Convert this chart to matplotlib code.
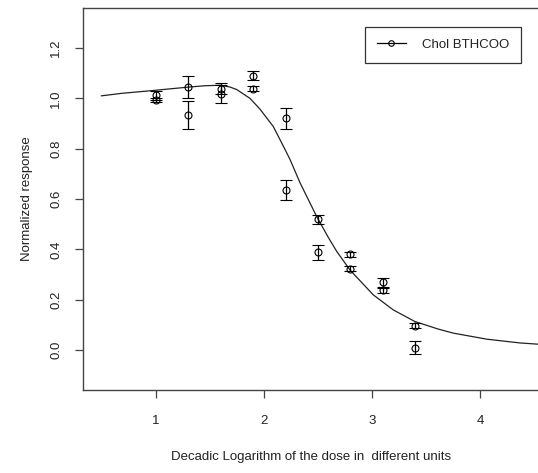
import matplotlib
matplotlib.use("Agg")
import matplotlib.pyplot as plt
from matplotlib.lines import Line2D

plt.rcParams['font.family'] = ['Liberation Sans', 'DejaVu Sans']

# Observed data (two replicates per dose level)
dose_log = [1.0, 1.3, 1.6, 1.9, 2.2, 2.5, 2.8, 3.1, 3.4]
resp_a = [1.013, 1.046, 1.038, 1.089, 0.920, 0.519, 0.380, 0.270, 0.096]
err_a = [0.018, 0.043, 0.022, 0.018, 0.043, 0.018, 0.009, 0.018, 0.010]
resp_b = [0.993, 0.933, 1.018, 1.038, 0.636, 0.388, 0.323, 0.237, 0.009]
err_b = [0.008, 0.055, 0.036, 0.010, 0.038, 0.030, 0.011, 0.009, 0.025]

# Fitted curve
curve_x = [0.495, 0.685, 0.944, 1.284, 1.450, 1.593, 1.685, 1.747, 1.870, 1.963,
           2.086, 2.179, 2.241, 2.333, 2.488, 2.596, 2.673, 2.796, 3.012, 3.198,
           3.398, 3.614, 3.753, 4.062, 4.370, 4.540]
curve_y = [1.010, 1.020, 1.030, 1.044, 1.050, 1.052, 1.045, 1.035, 1.000, 0.957,
           0.888, 0.810, 0.757, 0.665, 0.530, 0.447, 0.392, 0.318, 0.219, 0.159,
           0.113, 0.083, 0.067, 0.043, 0.028, 0.023]

xticks = [1, 2, 3, 4]
yticks = [0.0, 0.2, 0.4, 0.6, 0.8, 1.0, 1.2]
legend_label = "Chol BTHCOO"

W, H = 538, 473
fig = plt.figure(figsize=(W / 100, H / 100), dpi=100)
left_px, right_px, top_px, bottom_px = 83, 560, 8, 390
ax = fig.add_axes([left_px / W, (H - bottom_px) / H,
                   (right_px - left_px) / W, (bottom_px - top_px) / H])

ppu = 108.0
ax.set_xlim(1 - (156 - left_px) / ppu, 1 + (right_px - 156) / ppu)
ax.set_ylim(-0.159, 1.359)

ax.plot(curve_x, curve_y, color='#222222', lw=0.9, solid_joinstyle='round')

ekw = dict(fmt='o', mfc='none', mec='black', ms=5, mew=0.8,
           ecolor='black', elinewidth=0.9, capsize=4, capthick=0.9, ls='none')
ax.errorbar(dose_log, resp_a, yerr=err_a, **ekw)
ax.errorbar(dose_log, resp_b, yerr=err_b, **ekw)

ax.set_xticks(xticks)
ax.set_xticklabels([str(t) for t in xticks])
ax.set_yticks(yticks)
ax.set_yticklabels([f"{t:.1f}" for t in yticks], rotation=90, va='center')

for s in ['left', 'bottom', 'top']:
    ax.spines[s].set_color('#444444')
    ax.spines[s].set_linewidth(1.0)
ax.spines['right'].set_visible(False)

ax.tick_params(axis='both', length=6, width=0.9, color='#444444',
               labelsize=9.5, labelcolor='#222222')
ax.tick_params(axis='x', pad=12)
ax.tick_params(axis='y', pad=9)

fig.text(27 / W, 1 - 199 / H, "Normalized response", rotation=90,
         ha='center', va='center', fontsize=9.5, color='#222222')
fig.text(311 / W, 1 - 457 / H, "Decadic Logarithm of the dose in  different units",
         ha='center', va='center', fontsize=9.5, color='#222222')

handle = Line2D([], [], color='black', lw=0.9, marker='o', mfc='none',
                mec='black', ms=4, mew=0.8)
leg = ax.legend([handle], [legend_label], loc='upper left',
                bbox_to_anchor=(365 / W, 1 - 27 / H), bbox_transform=fig.transFigure,
                fancybox=False, edgecolor='#333333', framealpha=1,
                fontsize=9.5, handlelength=2.2, handletextpad=1.2,
                borderpad=0.9, borderaxespad=0)
leg.get_frame().set_linewidth(0.9)
for t in leg.get_texts():
    t.set_color('#222222')

fig.savefig("out.png", dpi=100)
